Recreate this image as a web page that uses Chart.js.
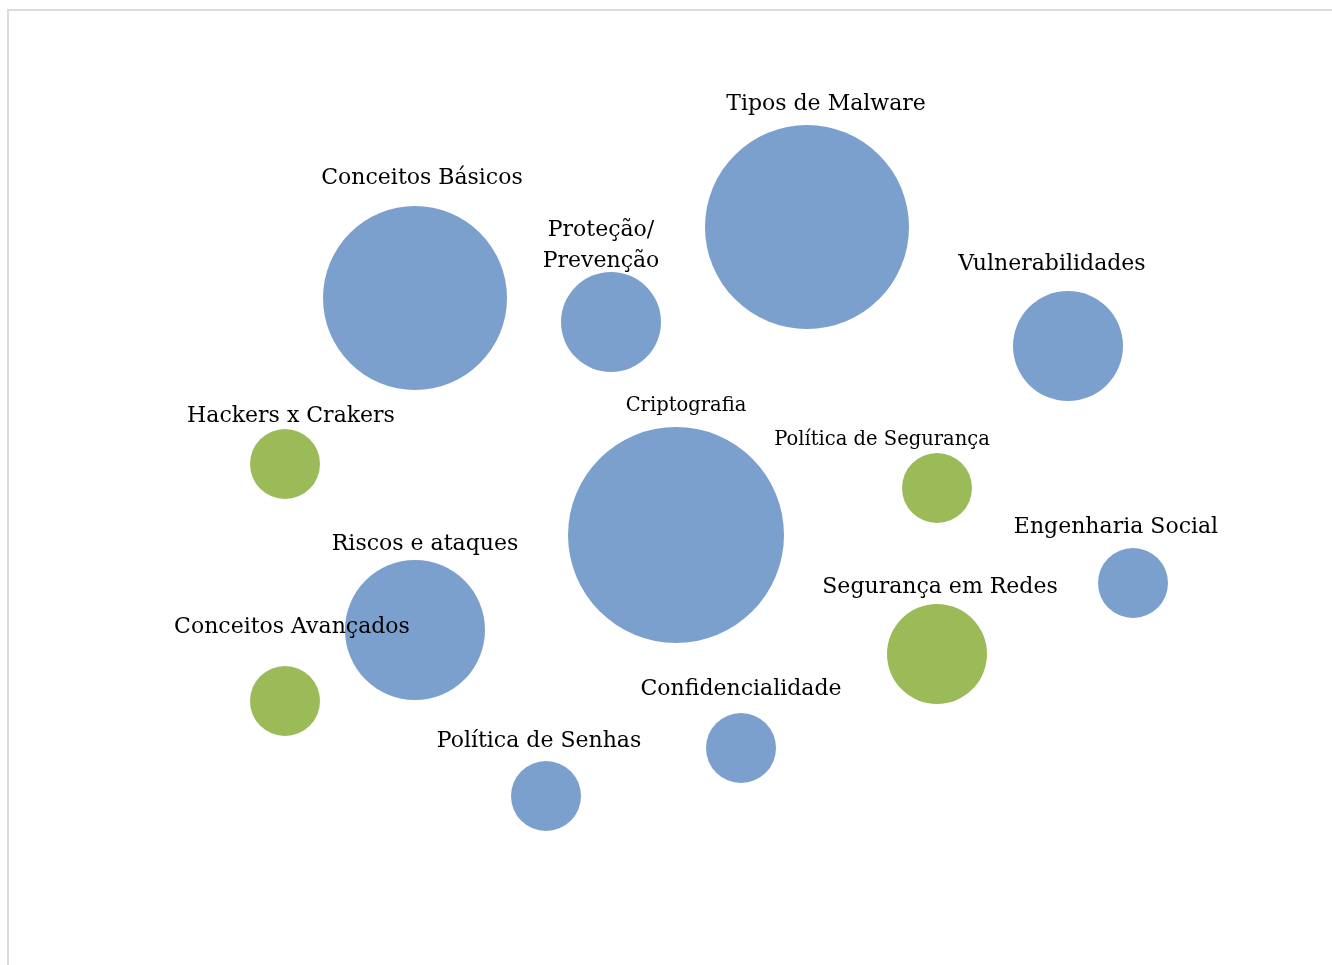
<!DOCTYPE html>
<html>
<head>
<meta charset="utf-8">
<script src="https://cdn.jsdelivr.net/npm/chart.js@4/dist/chart.umd.min.js"></script>
<style>
  html, body { margin: 0; padding: 0; background: #fff; overflow: hidden; }
  #frame {
    position: absolute; left: 7px; top: 9px; width: 1400px; height: 1000px;
    border-left: 2px solid #dcdcdc; border-top: 2px solid #dcdcdc;
  }
  #wrap { position: absolute; left: 0; top: 0; width: 1332px; height: 965px; }
</style>
</head>
<body>
<div id="frame"></div>
<div id="wrap"><canvas id="bubbles"></canvas></div>
<script>
/* topics, bubble centres (x, y), bubble radius and which group each one is in */
const topics = ['Conceitos Básicos', 'Proteção/\nPrevenção', 'Tipos de Malware', 'Vulnerabilidades',
  'Hackers x Crakers', 'Criptografia', 'Política de Segurança', 'Engenharia Social',
  'Riscos e ataques', 'Segurança em Redes', 'Conceitos Avançados', 'Confidencialidade',
  'Política de Senhas'];
const xVals = [415, 611, 807, 1068, 285, 676, 937, 1133, 415, 937, 285, 741, 546];
const yVals = [298, 322, 227, 346, 464, 535, 488, 583, 630, 654, 701, 748, 796];
const sizes = [92, 50, 102, 55, 35, 108, 35, 35, 70, 50, 35, 35, 35];
const group = [0, 0, 0, 0, 1, 0, 1, 0, 0, 1, 1, 0, 0];

/* where each label sits: shift from the bubble centre, gap above the bubble top */
const labelDx = [7, -10, 19, -16, 6, 10, -55, -17, 10, 3, 7, 0, -7];
const labelGap = [28, 11, 21, 27, 13, 21, 13, 21, 16, 17, 39, 24, 20];
const smallLabel = [false, false, false, false, false, true, true, false, false, false, false, false, false];

const colors = ['#7ba0cd', '#9bbb59'];

function pointsFor(g) {
    let out = [];
    for (let i = 0; i < topics.length; i++) {
        if (group[i] === g) out.push({ x: xVals[i], y: yVals[i], r: sizes[i], idx: i });
    }
    return out;
}

/* labels drawn above each bubble */
const bubbleLabels = {
    id: 'bubbleLabels',
    afterDatasetsDraw(chart) {
        const ctx = chart.ctx;
        ctx.save();
        ctx.fillStyle = '#000';
        ctx.textAlign = 'center';
        ctx.textBaseline = 'middle';
        chart.data.datasets.forEach((ds, d) => {
            chart.getDatasetMeta(d).data.forEach((el, k) => {
                const i = ds.data[k].idx;
                const size = smallLabel[i] ? 19.5 : 22;
                ctx.font = size + 'px "DejaVu Serif"';
                const lines = topics[i].split('\n');
                const lh = size * 1.4;
                let y = el.y - ds.data[k].r - labelGap[i] - (lines.length - 1) * lh;
                lines.forEach(line => {
                    ctx.fillText(line, el.x + labelDx[i], y);
                    y += lh;
                });
            });
        });
        ctx.restore();
    }
};

const chart = new Chart(document.getElementById('bubbles'), {
    type: 'bubble',
    data: {
        datasets: [
            { label: 'Série 1', data: pointsFor(0), backgroundColor: colors[0], borderWidth: 0, hoverRadius: 0 },
            { label: 'Série 2', data: pointsFor(1), backgroundColor: colors[1], borderWidth: 0, hoverRadius: 0 }
        ]
    },
    options: {
        responsive: true,
        maintainAspectRatio: false,
        animation: false,
        layout: { padding: 0, autoPadding: false },
        plugins: { legend: { display: false }, tooltip: { enabled: false } },
        events: [],
        scales: {
            x: { display: false, min: 0, max: 1332 },
            y: { display: false, min: 0, max: 965, reverse: true }
        }
    },
    plugins: [bubbleLabels]
});
</script>
</body>
</html>
